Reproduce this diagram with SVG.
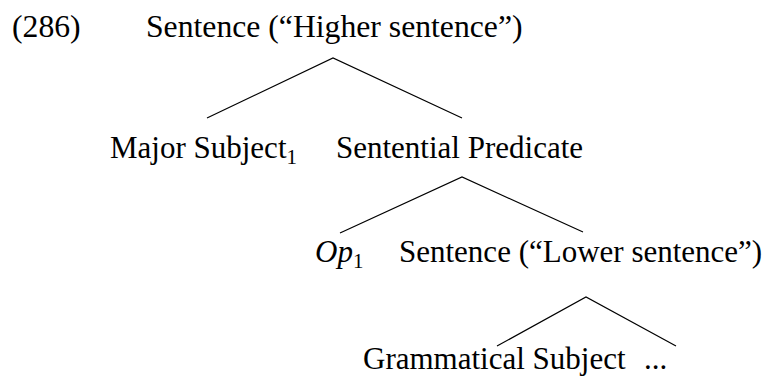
<svg xmlns="http://www.w3.org/2000/svg" width="772" height="376" viewBox="0 0 772 376">
<style>
text{font-family:"Liberation Serif","Times New Roman",serif;font-size:31px;fill:#000}
.top{font-size:31.7px}
.sub{font-size:21px}
.it{font-style:italic}
.edge{stroke:#000;stroke-width:1.2;fill:none}
</style>
<rect width="772" height="376" fill="#fff"/>
<g id="label"><text class="top" x="12" y="37">(286)</text></g>
<g id="higher-sentence"><text class="top" x="146" y="37">Sentence (“Higher sentence”)</text></g>
<g id="major-subject"><text x="110" y="158">Major Subject<tspan class="sub" dy="6">1</tspan></text></g>
<g id="sentential-predicate"><text x="336" y="158">Sentential Predicate</text></g>
<g id="op"><text x="315" y="262"><tspan class="it">Op</tspan><tspan class="sub" dy="6">1</tspan></text></g>
<g id="lower-sentence"><text x="399" y="262">Sentence (“Lower sentence”)</text></g>
<g id="grammatical-subject"><text x="363" y="369">Grammatical Subject</text></g>
<g id="ellipsis"><text x="644" y="369">...</text></g>
<g id="connectors">
<path class="edge" d="M207 118 L333 58 L462 118"/>
<path class="edge" d="M340 233 L462 177 L583 232"/>
<path class="edge" d="M497 346 L586 297 L676 346"/>
</g>
</svg>
